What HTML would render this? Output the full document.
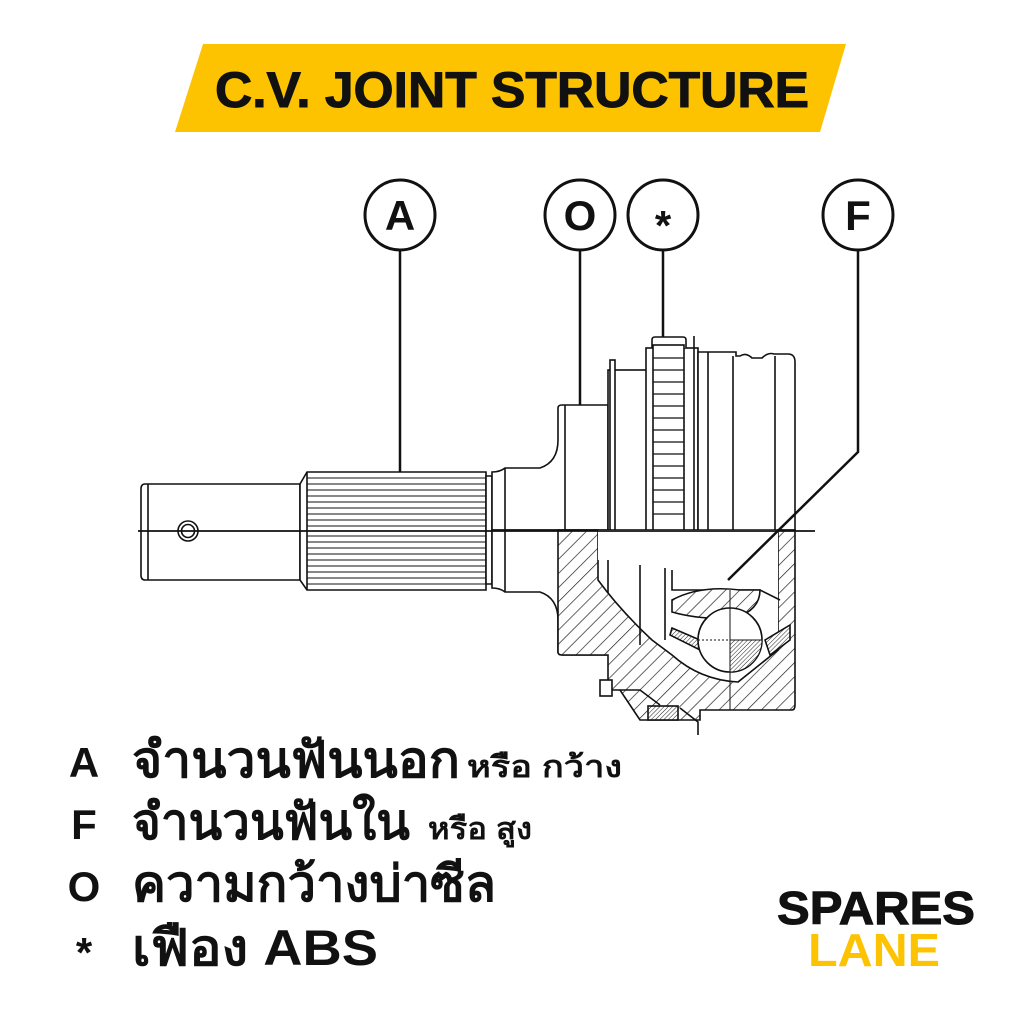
<!DOCTYPE html>
<html><head><meta charset="utf-8"><style>
html,body{margin:0;padding:0;background:#fff;width:1024px;height:1024px;overflow:hidden}
svg{display:block}
</style></head><body>
<svg width="1024" height="1024" viewBox="0 0 1024 1024" xmlns="http://www.w3.org/2000/svg" font-family="'Liberation Sans', 'DejaVu Sans', sans-serif">
<defs>
<pattern id="h" width="10" height="10" patternUnits="userSpaceOnUse" patternTransform="rotate(45)">
<rect width="10" height="10" fill="#fff"/><line x1="0" y1="0" x2="0" y2="10" stroke="#222" stroke-width="1.4"/>
</pattern>
<pattern id="hf" width="3" height="3" patternUnits="userSpaceOnUse" patternTransform="rotate(45)">
<rect width="3" height="3" fill="#fff"/><line x1="0" y1="0" x2="0" y2="3" stroke="#222" stroke-width="1"/>
</pattern>
</defs>
<rect width="1024" height="1024" fill="#fff"/>
<!-- title banner -->
<polygon points="203,44 846,44 820,132 175,132" fill="#FDC300"/>
<text x="512" y="107" text-anchor="middle" font-size="50" font-weight="bold" fill="#111" stroke="#111" stroke-width="1" textLength="594" lengthAdjust="spacingAndGlyphs">C.V. JOINT STRUCTURE</text>

<!-- callout circles -->
<g fill="#fff" stroke="#111" stroke-width="3">
<circle cx="400" cy="215" r="35"/><circle cx="580" cy="215" r="35"/>
<circle cx="663" cy="215" r="35"/><circle cx="858" cy="215" r="35"/>
</g>
<g font-size="42" font-weight="bold" text-anchor="middle" fill="#111">
<text x="400" y="230">A</text><text x="580" y="230">O</text>
<text x="663" y="240">*</text><text x="858" y="230">F</text>
</g>
<!-- leader lines -->
<g stroke="#111" stroke-width="2.5" fill="none">
<line x1="400" y1="250" x2="400" y2="472"/>
<polyline points="580,250 580,408"/>
<line x1="663" y1="250" x2="663" y2="338"/>
</g>

<!-- drawing -->
<g stroke="#111" stroke-width="1.6" fill="#fff">
<path d="M145,484 H300 V580 H145 Q141,580 141,575 V489 Q141,484 145,484 Z"/>
<line x1="148" y1="484" x2="148" y2="580"/>
<circle cx="188" cy="531" r="10"/><circle cx="188" cy="531" r="6.5"/>
<path d="M300,484 L307,472 H486 V590 H307 L300,580 Z"/>
<line x1="307" y1="472" x2="307" y2="590"/>
<g stroke-width="1.1">
<line x1="307" y1="478" x2="486" y2="478"/><line x1="307" y1="484" x2="486" y2="484"/>
<line x1="307" y1="490" x2="486" y2="490"/><line x1="307" y1="496" x2="486" y2="496"/>
<line x1="307" y1="502" x2="486" y2="502"/><line x1="307" y1="508" x2="486" y2="508"/>
<line x1="307" y1="514" x2="486" y2="514"/><line x1="307" y1="520" x2="486" y2="520"/>
<line x1="307" y1="526" x2="486" y2="526"/><line x1="307" y1="536" x2="486" y2="536"/>
<line x1="307" y1="542" x2="486" y2="542"/><line x1="307" y1="548" x2="486" y2="548"/>
<line x1="307" y1="554" x2="486" y2="554"/><line x1="307" y1="560" x2="486" y2="560"/>
<line x1="307" y1="566" x2="486" y2="566"/><line x1="307" y1="572" x2="486" y2="572"/>
<line x1="307" y1="578" x2="486" y2="578"/><line x1="307" y1="584" x2="486" y2="584"/>
</g>
<path d="M486,476 H492 V584 H486 Z"/>
<path d="M492,472 Q500,472 505,468 H540 Q558,462 558,440 V408 Q558,405 562,405 H608 V530 H492 Z"/>
<line x1="565" y1="405" x2="565" y2="530"/>
<path d="M492,588 Q500,588 505,592 H540 Q558,598 558,620 V652 Q558,655 562,655 H608 V530 H492 Z"/>
<line x1="505" y1="468" x2="505" y2="592"/>
<rect x="608" y="370" width="40" height="160"/>
<rect x="610" y="360" width="5" height="170"/>
<rect x="646" y="348" width="52" height="182"/>
<path d="M652,348 V340 Q652,337 655,337 H683 Q686,337 686,340 V348" />
<rect x="653" y="345" width="31" height="185"/>
<g stroke-width="1.2">
<line x1="653" y1="358" x2="684" y2="358"/><line x1="653" y1="370" x2="684" y2="370"/>
<line x1="653" y1="382" x2="684" y2="382"/><line x1="653" y1="394" x2="684" y2="394"/>
<line x1="653" y1="406" x2="684" y2="406"/><line x1="653" y1="418" x2="684" y2="418"/>
<line x1="653" y1="430" x2="684" y2="430"/><line x1="653" y1="442" x2="684" y2="442"/>
<line x1="653" y1="454" x2="684" y2="454"/><line x1="653" y1="466" x2="684" y2="466"/>
<line x1="653" y1="478" x2="684" y2="478"/><line x1="653" y1="490" x2="684" y2="490"/>
<line x1="653" y1="502" x2="684" y2="502"/><line x1="653" y1="514" x2="684" y2="514"/>
</g>
<line x1="694" y1="336" x2="694" y2="530"/>
<path d="M698,352 H736 V356 H740 Q746,352 752,358 H762 Q768,352 774,354 H788 Q795,354 795,362 V530 H698 Z"/>
<line x1="708" y1="352" x2="708" y2="530"/>
<line x1="733" y1="356" x2="733" y2="530"/>
<line x1="775" y1="356" x2="775" y2="530"/>
<path d="M558,530 V652 Q558,655 562,655 H608 V690 H620 L640,720 H700 V710 H792 Q795,710 795,705 V530 H778 V650 L738,682 Q700,680 672,655 L652,640 Q620,610 598,580 V530 Z" fill="url(#h)"/>
<path d="M598,530 H778 V640 L760,660 Q730,672 700,665 L660,642 V560 L598,560 Z" fill="#fff" stroke="none"/>
<line x1="640" y1="565" x2="640" y2="645"/>
<path d="M665,568 V640 M672,570 V590 H760 L780,600"/>
<path d="M672,600 Q700,585 740,590 L760,590 Q760,610 735,618 Q700,620 672,612 Z" fill="url(#h)"/>
<path d="M672,628 L700,640 V650 L670,635 Z" fill="url(#hf)"/>
<path d="M765,640 L790,625 V640 L770,655 Z" fill="url(#hf)"/>
<circle cx="730" cy="640" r="32"/>
<path d="M730,640 H762 A32,32 0 0 1 730,672 Z" fill="url(#hf)" stroke-width="1"/>
<line x1="730" y1="590" x2="730" y2="710" stroke-width="1"/>
<line x1="698" y1="640" x2="762" y2="640" stroke-width="1" stroke-dasharray="2,2"/>
<rect x="600" y="680" width="12" height="16"/>
<path d="M620,690 H640 L660,705" fill="none"/>
<rect x="648" y="706" width="30" height="14" fill="url(#hf)"/>
<path d="M680,708 L698,722 V735" fill="none"/>
<line x1="138" y1="531" x2="815" y2="531" stroke-width="1.8"/>
</g>
<!-- F leader on top -->
<polyline points="858,250 858,452 728,580" stroke="#111" stroke-width="2.5" fill="none"/>

<!-- legend -->
<g font-weight="bold" fill="#111">
<text x="84" y="777" font-size="42" text-anchor="middle">A</text>
<text x="84" y="839" font-size="42" text-anchor="middle">F</text>
<text x="84" y="901" font-size="42" text-anchor="middle">O</text>
<text x="84" y="967" font-size="42" text-anchor="middle">*</text>
<text x="132" y="777" font-size="50" textLength="328" lengthAdjust="spacingAndGlyphs">จำนวนฟันนอก</text>
<text x="467" y="777" font-size="30" textLength="155" lengthAdjust="spacingAndGlyphs">หรือ กว้าง</text>
<text x="132" y="839" font-size="50" textLength="278" lengthAdjust="spacingAndGlyphs">จำนวนฟันใน</text>
<text x="428" y="839" font-size="30" textLength="104" lengthAdjust="spacingAndGlyphs">หรือ สูง</text>
<text x="132" y="901" font-size="50" textLength="364" lengthAdjust="spacingAndGlyphs">ความกว้างบ่าซีล</text>
<text x="132" y="965" font-size="50" textLength="246" lengthAdjust="spacingAndGlyphs">เฟือง ABS</text>
</g>
<!-- logo -->
<text x="876" y="924" font-size="46" font-weight="bold" text-anchor="middle" fill="#111" stroke="#111" stroke-width="1" textLength="198" lengthAdjust="spacingAndGlyphs">SPARES</text>
<text x="874" y="966" font-size="46" font-weight="bold" text-anchor="middle" fill="#FDC300" textLength="132" lengthAdjust="spacingAndGlyphs">LANE</text>
</svg>
</body></html>
